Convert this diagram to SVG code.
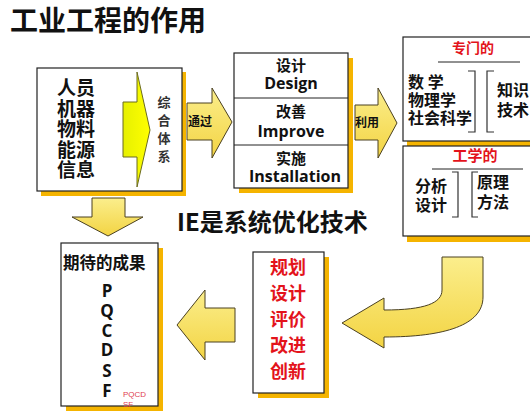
<svg xmlns="http://www.w3.org/2000/svg" width="530" height="411" viewBox="0 0 530 411">
<defs>
<style>
.cn{font-family:"Noto Sans CJK SC","Noto Sans",sans-serif;font-weight:bold;fill:#111}
.en{font-family:"Open Sans","Noto Sans",sans-serif;font-weight:bold;fill:#111}
.red{fill:#E3131B}
.box{fill:#fff;stroke:#222;stroke-width:1.2}
.shadow{fill:#F5B400}
.arrow{fill:url(#ag);stroke:#4a4020;stroke-width:1}
.br{fill:none;stroke:#333;stroke-width:1.2}
.ln{stroke:#222;stroke-width:1}
</style>
<linearGradient id="ag" x1="0" y1="0" x2="0" y2="1">
<stop offset="0" stop-color="#FBEE8C"/>
<stop offset="1" stop-color="#F3D443"/>
</linearGradient>
<linearGradient id="yg" x1="0" y1="0" x2="1" y2="0">
<stop offset="0" stop-color="#E6F000"/>
<stop offset="1" stop-color="#FFFF00"/>
</linearGradient>
</defs>

<text class="cn" x="10" y="31" font-size="28" font-weight="900">工业工程的作用</text>

<g id="connectors">
<polygon class="arrow" points="187,103 212,103 212,88 232,122 212,158 212,140 187,140"/>
<polygon class="arrow" points="355,105 378,105 378,88 397,123 378,158 378,140 355,140"/>
<polygon class="arrow" points="92,198 125,198 125,217 143,217 108,236 72,217 92,217"/>
<polygon class="arrow" points="177,325 205,290 205,308 235,308 235,342 205,342 205,360"/>
<path class="arrow" d="M442,257 L483,257 L483,297 C483,325 445,337 384,337 L384,348 L342,323 L384,298 L384,310 C425,310 442,303 442,290 Z"/>
<text class="cn" x="200" y="126" font-size="12" text-anchor="middle">通过</text>
<text class="cn" x="367" y="127" font-size="12" text-anchor="middle">利用</text>
</g>

<g id="input">
<rect class="shadow" x="41" y="72" width="145" height="124"/>
<rect class="box" x="37" y="68" width="145" height="123"/>
<polygon points="123,102 137,102 137,72 150,130 137,187 137,157 123,157" fill="url(#yg)" stroke="#6b6b20" stroke-width="1"/>
<text class="cn" x="57" font-size="19"><tspan x="57" y="95">人员</tspan><tspan x="57" y="115.5">机器</tspan><tspan x="57" y="136">物料</tspan><tspan x="57" y="156.5">能源</tspan><tspan x="57" y="177">信息</tspan></text>
<text class="cn" font-size="13" text-anchor="middle" font-weight="normal" style="fill:#333"><tspan x="164" y="107">综</tspan><tspan x="164" y="125">合</tspan><tspan x="164" y="143">体</tspan><tspan x="164" y="161">系</tspan></text>
</g>

<g id="process">
<rect class="shadow" x="239" y="58" width="114" height="135"/>
<rect class="box" x="234" y="53" width="114" height="135"/>
<line class="ln" x1="234" y1="98" x2="348" y2="98"/>
<line class="ln" x1="234" y1="145" x2="348" y2="145"/>
<text class="cn" x="291" y="71" font-size="15" text-anchor="middle">设计</text>
<text class="en" x="291" y="89" font-size="16" text-anchor="middle">Design</text>
<text class="cn" x="291" y="117" font-size="15" text-anchor="middle">改善</text>
<text class="en" x="291" y="137" font-size="16" text-anchor="middle">Improve</text>
<text class="cn" x="291" y="164" font-size="15" text-anchor="middle">实施</text>
<text class="en" x="295" y="182" font-size="16" text-anchor="middle">Installation</text>
</g>

<g id="special">
<rect class="shadow" x="407" y="41" width="130" height="105"/>
<rect class="box" x="403" y="37" width="135" height="104"/>
<text class="cn red" x="473" y="53" font-size="14" text-anchor="middle">专门的</text>
<line class="ln" x1="438" y1="62" x2="520" y2="62"/>
<text class="cn" font-size="16"><tspan x="408" y="88">数 学</tspan><tspan x="408" y="106">物理学</tspan><tspan x="408" y="124">社会科学</tspan></text>
<path class="br" d="M468,71 H475 V132 H468"/>
<path class="br" d="M494,71 H487 V132 H494"/>
<text class="cn" font-size="16"><tspan x="497" y="96">知识</tspan><tspan x="497" y="116">技术</tspan></text>
</g>

<g id="engineering">
<rect class="shadow" x="407" y="150" width="130" height="92"/>
<rect class="box" x="403" y="146" width="135" height="90"/>
<line class="ln" x1="432" y1="169" x2="523" y2="169"/>
<text class="cn red" x="475" y="161" font-size="15" text-anchor="middle">工学的</text>
<text class="cn" font-size="16" text-anchor="middle"><tspan x="431" y="192">分析</tspan><tspan x="431" y="211">设计</tspan></text>
<path class="br" d="M452,172 H458 V217 H452"/>
<path class="br" d="M478,172 H472 V217 H478"/>
<text class="cn" font-size="16"><tspan x="477" y="188">原理</tspan><tspan x="477" y="208">方法</tspan></text>
</g>

<text class="cn" x="177" y="231" font-size="24">IE是系统优化技术</text>

<g id="results">
<rect class="shadow" x="66" y="248" width="97" height="163"/>
<rect class="box" x="61" y="243" width="97" height="163"/>
<text class="cn" x="63" y="269" font-size="16.5">期待的成果</text>
<text class="en" font-size="17" text-anchor="middle"><tspan x="107" y="297">P</tspan><tspan x="107" y="317">Q</tspan><tspan x="107" y="337">C</tspan><tspan x="107" y="356">D</tspan><tspan x="107" y="377">S</tspan><tspan x="107" y="397">F</tspan></text>
<text font-family="Liberation Sans, sans-serif" font-size="8" fill="#E04050"><tspan x="123" y="397">PQCD</tspan><tspan x="123" y="407">SF</tspan></text>
</g>

<g id="methods">
<rect class="shadow" x="258" y="257" width="71" height="141"/>
<rect class="box" x="253" y="252" width="71" height="141"/>
<text class="cn red" font-size="18" text-anchor="middle"><tspan x="288" y="274">规划</tspan><tspan x="288" y="300">设计</tspan><tspan x="288" y="326">评价</tspan><tspan x="288" y="352">改进</tspan><tspan x="288" y="378">创新</tspan></text>
</g>
</svg>
